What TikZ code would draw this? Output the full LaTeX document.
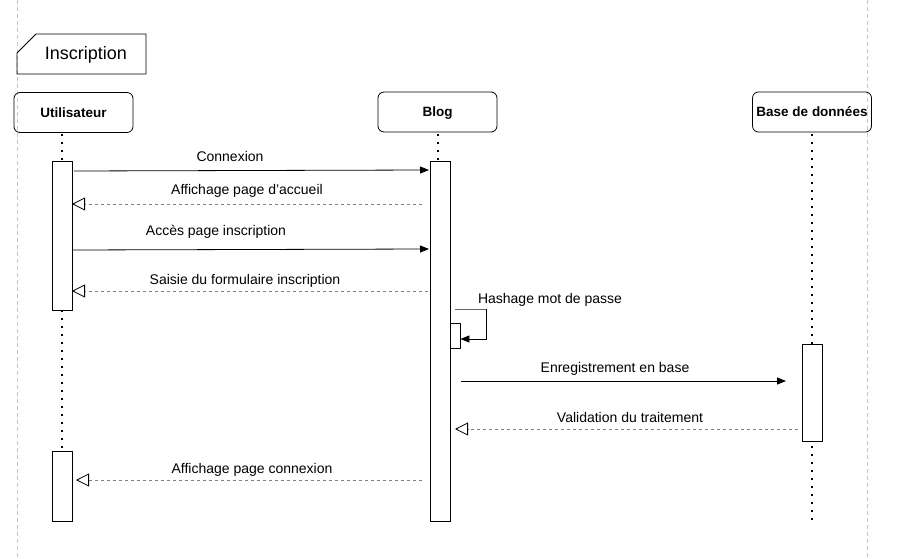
\documentclass[tikz,border=0pt]{standalone}
\usepackage{fontspec}
\setmainfont{Liberation Sans}
\usetikzlibrary{arrows.meta}
\begin{document}
\begin{tikzpicture}[x=1pt,y=-1pt,
  actor/.style={draw,rounded corners=6pt,minimum width=119pt,minimum height=40pt,line width=0.8pt,font=\fontsize{13.5}{16}\selectfont\bfseries,inner sep=0pt},
  actbox/.style={draw,line width=0.8pt,fill=white},
  lifeline/.style={line width=1.6pt,dash pattern=on 1.6pt off 6.4pt},
  frameline/.style={draw=black!22,line width=0.6pt,dash pattern=on 4pt off 3pt},
  msg/.style={line width=0.8pt,-{Triangle[length=9pt,width=7pt]}},
  ret/.style={draw=black!50,line width=0.8pt,dash pattern=on 3pt off 3pt,-{Triangle[open,length=13pt,width=13pt,line width=0.8pt,color=black]}},
  lbl/.style={font=\fontsize{14}{16}\selectfont,inner sep=0pt,yshift=-1.5pt}
]
\useasboundingbox (0,0) rectangle (900,559);
\fill[white] (0,0) rectangle (900,559);
% frame lines
\draw[frameline] (17,0) -- (17,559);
\draw[frameline] (867,0) -- (867,559);
% title frame
\draw[line width=0.8pt] (17,53) -- (36,34) -- (146,34) -- (146,74) -- (17,74) -- cycle;
\node[font=\fontsize{18}{20}\selectfont,inner sep=0pt,yshift=-2pt] (title) at (86,53) {Inscription};
% actors
\node[actor,text depth=0pt,yshift=-1pt] (user) at (73.5,111.5) {Utilisateur};
\node[actor,text depth=0pt,yshift=-1pt] (blog) at (437.5,111) {Blog};
\node[actor,text depth=0pt,yshift=-1pt] (db) at (812,111) {Base de données};
% lifelines
\coordinate (uend) at (62,521);
\coordinate (bend) at (438,521);
\coordinate (dend) at (812,521);
\draw[lifeline] (62,134) -- (uend);
\draw[lifeline] (438,134) -- (bend);
\draw[lifeline] (812,134) -- (dend);
% activation boxes
\node[actbox,minimum width=20pt,minimum height=149pt,inner sep=0pt] (ua1) at (62,235.5) {};
\node[actbox,minimum width=20pt,minimum height=70pt,inner sep=0pt] (ua2) at (62,486) {};
\node[actbox,minimum width=20pt,minimum height=360pt,inner sep=0pt] (ba) at (440,341) {};
\node[actbox,minimum width=10pt,minimum height=25pt,inner sep=0pt] (bs) at (455,335.5) {};
\node[actbox,minimum width=20pt,minimum height=97pt,inner sep=0pt] (da) at (812,392.5) {};
% messages
\coordinate (m1s) at (74,171); \coordinate (m1e) at (429,170);
\draw[msg] (m1s) -- (m1e);
\node[lbl] (l1) at (230,155) {Connexion};
\coordinate (m2s) at (422,204); \coordinate (m2e) at (72,204);
\draw[ret] (m2s) -- (m2e);
\node[lbl] (l2) at (247,189) {Affichage page d{\char"0027}accueil};
\coordinate (m3s) at (72,250); \coordinate (m3e) at (429,249);
\draw[msg] (m3s) -- (m3e);
\node[lbl] (l3) at (216,230) {Accès page inscription};
\coordinate (m4s) at (428,291); \coordinate (m4e) at (72,291);
\draw[ret] (m4s) -- (m4e);
\node[lbl] (l4) at (245,279) {Saisie du formulaire inscription};
% self message
\coordinate (s1) at (455,309); \coordinate (s2) at (486,309); \coordinate (s3) at (486,339);
\draw[draw=black!60,line width=0.8pt] (s1) -- (s2);
\draw[msg] (s2) -- (s3) -- (bs.east |- s3);
\node[lbl] (l5) at (550,298) {Hashage mot de passe};
\coordinate (m6s) at (461,381); \coordinate (m6e) at (786,381);
\draw[msg] (m6s) -- (m6e);
\node[lbl] (l6) at (615,367) {Enregistrement en base};
\coordinate (m7s) at (798,429); \coordinate (m7e) at (455,429);
\draw[ret] (m7s) -- (m7e);
\node[lbl] (l7) at (630,416) {Validation du traitement};
\coordinate (m8s) at (422,480); \coordinate (m8e) at (76,480);
\draw[ret] (m8s) -- (m8e);
\node[lbl] (l8) at (252,468) {Affichage page connexion};
\end{tikzpicture}
\end{document}
